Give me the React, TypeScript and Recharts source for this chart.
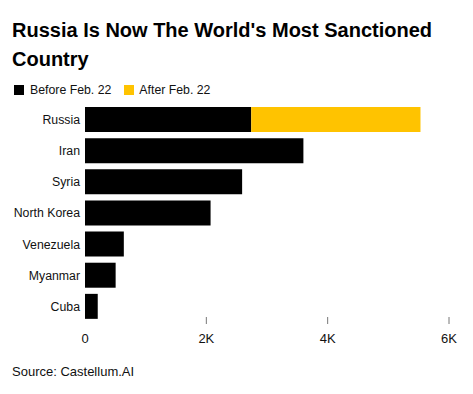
import React from "react";
import { BarChart, Bar, XAxis, YAxis } from "recharts";

const countries = ["Russia", "Iran", "Syria", "North Korea", "Venezuela", "Myanmar", "Cuba"];
const beforeFeb22 = [2740, 3600, 2590, 2070, 640, 505, 210];
const afterFeb22 = [2790, 0, 0, 0, 0, 0, 0];
const xTicks = [0, 2000, 4000, 6000];
const xTickLabels = ["0", "2K", "4K", "6K"];

const data = countries.map((c, i) => ({
  country: c,
  before: beforeFeb22[i],
  after: afterFeb22[i],
}));

const FONT = '"Liberation Sans", Arial, Helvetica, sans-serif';

// x axis tick: short mark above the label (none for zero)
const XTick = (props: any) => {
  const { x, y, payload } = props;
  const idx = xTicks.indexOf(payload.value);
  return (
    <g>
      {payload.value !== 0 && (
        <line x1={x} x2={x} y1={y - 5} y2={y + 2} stroke="#777" strokeWidth={1} />
      )}
      <text x={x} y={y + 21} textAnchor="middle" fontSize={13} fill="#111" fontFamily={FONT}>
        {xTickLabels[idx]}
      </text>
    </g>
  );
};

export default function App() {
  return (
    <div
      style={{
        position: "absolute",
        top: 0,
        left: 0,
        width: 473,
        height: 394,
        background: "#fff",
        fontFamily: FONT,
        color: "#000",
      }}
    >
      <div
        style={{
          position: "absolute",
          left: 12,
          top: 16,
          width: 450,
          fontSize: 20,
          fontWeight: 700,
          lineHeight: "29px",
        }}
      >
        Russia Is Now The World's Most Sanctioned Country
      </div>
      <div
        style={{
          position: "absolute",
          left: 14,
          top: 83,
          fontSize: 12.3,
          display: "flex",
          alignItems: "center",
          color: "#111",
        }}
      >
        <span style={{ width: 10, height: 10, background: "#000", display: "inline-block", marginRight: 6 }} />
        <span style={{ marginRight: 13 }}>Before Feb. 22</span>
        <span style={{ width: 10, height: 10, background: "#FFC300", display: "inline-block", marginRight: 5 }} />
        <span>After Feb. 22</span>
      </div>
      <div style={{ position: "absolute", top: 0, left: 0 }}>
        <BarChart
          width={473}
          height={394}
          data={data}
          layout="vertical"
          margin={{ top: 104, right: 24, bottom: 42, left: 0 }}
          barCategoryGap={3}
        >
          <XAxis
            type="number"
            domain={[0, 6000]}
            ticks={xTicks}
            axisLine={false}
            tickLine={false}
            tickSize={0}
            tickMargin={0}
            height={30}
            tick={<XTick />}
            interval={0}
          />
          <YAxis
            type="category"
            dataKey="country"
            width={85}
            axisLine={false}
            tickLine={false}
            tickSize={0}
            tickMargin={5}
            interval={0}
            tick={{ fontSize: 12.3, fill: "#111", fontFamily: FONT }}
          />
          <Bar dataKey="before" stackId="a" fill="#000" isAnimationActive={false} />
          <Bar dataKey="after" stackId="a" fill="#FFC300" isAnimationActive={false} />
        </BarChart>
      </div>
      <div style={{ position: "absolute", left: 12, top: 364, fontSize: 13, color: "#111" }}>
        Source: Castellum.AI
      </div>
    </div>
  );
}
